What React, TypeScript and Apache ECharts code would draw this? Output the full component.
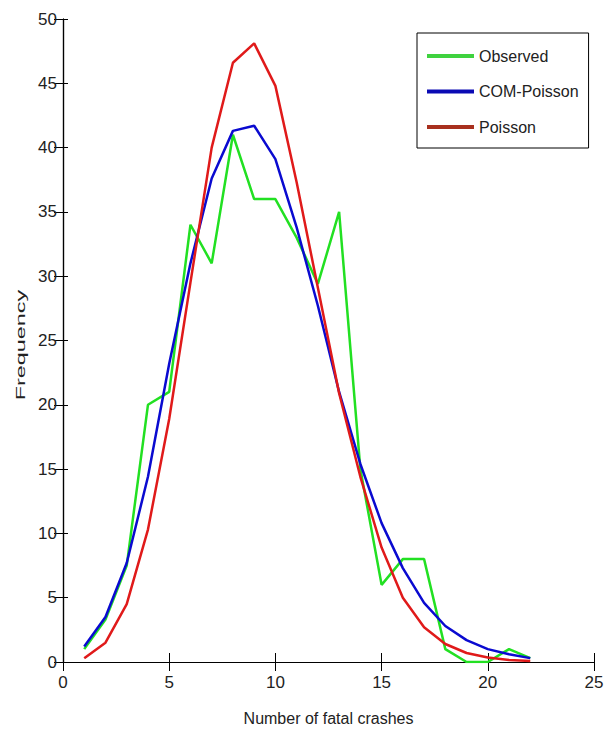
import React, { useEffect, useRef } from "react";
import * as echarts from "echarts";

const crashes = [1, 2, 3, 4, 5, 6, 7, 8, 9, 10, 11, 12, 13, 14, 15, 16, 17, 18, 19, 20, 21, 22];
const observed = [1.0, 3.3, 7.5, 20, 21, 34, 31, 41, 36, 36, 33, 29.4, 35, 15, 6, 8, 8, 1.0, 0, 0, 1.0, 0.3];
const comPoisson = [1.2, 3.5, 7.7, 14.4, 23.2, 31, 37.6, 41.3, 41.7, 39.1, 33.8, 27.7, 21.0, 15.4, 10.8, 7.3, 4.6, 2.8, 1.7, 1.0, 0.6, 0.3];
const poisson = [0.3, 1.5, 4.5, 10.3, 18.9, 29.5, 40.0, 46.6, 48.1, 44.8, 37.3, 29.1, 20.9, 14.4, 8.9, 5.0, 2.7, 1.4, 0.7, 0.35, 0.15, 0.07];
const seriesNames = ["Observed", "COM-Poisson", "Poisson"];
const xAxisTitle = "Number of fatal crashes";
const yAxisTitle = "Frequency";

const FONT = "'Liberation Sans', Arial, sans-serif";

export default function App() {
  const ref = useRef<HTMLDivElement>(null);
  useEffect(() => {
    if (!ref.current) return;
    const chart = echarts.init(ref.current, null, { renderer: "svg" });
    const pairs = (ys: number[]) => crashes.map((x, i) => [x, ys[i]]);
    const axisLabel = { color: "#222", fontSize: 17, fontFamily: FONT };
    chart.setOption({
      animation: false,
      backgroundColor: "#fff",
      grid: { left: 63, right: 22, top: 19, bottom: 65 },
      legend: {
        orient: "vertical",
        left: 417,
        top: 33,
        padding: [13, 10, 11, 10],
        itemGap: 15.5,
        itemWidth: 47,
        itemHeight: 4,
        icon: "rect",
        borderColor: "#000",
        borderWidth: 1,
        backgroundColor: "#fff",
        textStyle: { color: "#222", fontSize: 16, fontFamily: FONT, lineHeight: 20 },
        data: [
          { name: seriesNames[0], itemStyle: { color: "#3fd23f" } },
          { name: seriesNames[1], itemStyle: { color: "#0a0ab4" } },
          { name: seriesNames[2], itemStyle: { color: "#a8301e" } },
        ],
      },
      xAxis: [
        {
          type: "value",
          min: 0,
          max: 25,
          interval: 5,
          name: xAxisTitle,
          nameLocation: "middle",
          nameGap: 48,
          nameTextStyle: { color: "#222", fontSize: 16, fontFamily: FONT },
          axisLine: { lineStyle: { color: "#000", width: 1.2 } },
          axisTick: { inside: true, length: 9, lineStyle: { color: "#000" } },
          axisLabel: { ...axisLabel, margin: 12 },
          splitLine: { show: false },
        },
        {
          type: "value",
          position: "top",
          min: 0,
          max: 25,
          interval: 5,
          axisLine: { lineStyle: { color: "#000", width: 1.2 } },
          axisTick: { inside: true, length: 9, lineStyle: { color: "#000" } },
          axisLabel: { show: false },
          splitLine: { show: false },
        },
      ],
      yAxis: [
        {
          type: "value",
          min: 0,
          max: 50,
          interval: 5,
          axisLine: { show: true, lineStyle: { color: "#000", width: 1.2 } },
          axisTick: { show: true, inside: true, length: 5, lineStyle: { color: "#000" } },
          axisLabel: { ...axisLabel, margin: 6 },
          splitLine: { show: false },
        },
        {
          type: "value",
          position: "right",
          min: 0,
          max: 50,
          interval: 5,
          axisLine: { show: true, lineStyle: { color: "#000", width: 1.2 } },
          axisTick: { show: true, inside: true, length: 9, lineStyle: { color: "#000" } },
          axisLabel: { show: false },
          splitLine: { show: false },
        },
      ],
      graphic: [
        {
          type: "text",
          x: 21,
          y: 345,
          rotation: Math.PI / 2,
          scaleX: 1.8,
          style: {
            text: yAxisTitle,
            font: "13px 'Liberation Sans', Arial, sans-serif",
            fill: "#222",
            textAlign: "center",
            textVerticalAlign: "middle",
          },
        },
      ],
      series: [
        {
          name: seriesNames[0],
          type: "line",
          data: pairs(observed),
          showSymbol: false,
          lineStyle: { color: "#22e022", width: 2.5 },
          itemStyle: { color: "#22e022" },
        },
        {
          name: seriesNames[1],
          type: "line",
          data: pairs(comPoisson),
          showSymbol: false,
          lineStyle: { color: "#0a0ad0", width: 2.5 },
          itemStyle: { color: "#0a0ad0" },
        },
        {
          name: seriesNames[2],
          type: "line",
          data: pairs(poisson),
          showSymbol: false,
          lineStyle: { color: "#e01a1a", width: 2.5 },
          itemStyle: { color: "#e01a1a" },
        },
      ],
    });
    return () => chart.dispose();
  }, []);
  return <div ref={ref} style={{ width: 616, height: 731, position: "absolute", left: 0, top: 0 }} />;
}
